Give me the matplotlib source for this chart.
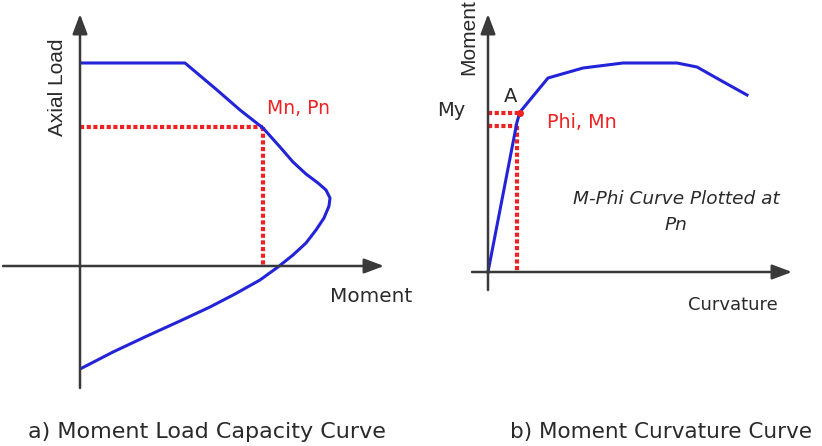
import numpy as np
import matplotlib.pyplot as plt

# Left panel: P-M interaction curve (moment, axial load), arbitrary units
pm_moment = [2, 105, 137, 160, 183, 200, 213, 226, 238, 246, 250, 249, 244, 236,
             226, 213, 198, 180, 155, 130, 100, 67, 33, 2]
pm_load = [203, 203, 176, 156, 138, 119, 104, 92, 83, 76, 68, 60, 48, 36,
           23, 11, -1, -14, -28, -41, -55, -70, -86, -102]
mn, pn = 183, 139

# Right panel: moment-curvature curve plotted at Pn
mc_phi = [0, 29, 32, 60, 95, 135, 189, 209, 232, 259]
mc_moment = [0, 150, 160, 194, 204, 209, 209, 205, 192, 177]
phi_n, m_n = 29, 146
phi_y, m_y = 32, 159

W, H = 822, 446
blue = '#2323d8'
red = '#ee2222'
txt = '#2a2a2a'
axc = '#3a3a3a'
dotted = (0, (1, 0.6))

fig = plt.figure(figsize=(W / 100, H / 100), dpi=100)


def panel(x0, x1, y0, y1, ox, oy):
    # axes over pixel box, 1 data unit = 1 pixel, origin at pixel (ox, oy)
    ax = fig.add_axes([x0 / W, 1 - y1 / H, (x1 - x0) / W, (y1 - y0) / H])
    ax.set_xlim(x0 - ox, x1 - ox)
    ax.set_ylim(oy - y1, oy - y0)
    ax.axis('off')
    return ax


def arrow_axis(ax, start, end):
    ax.annotate('', xy=end, xytext=start,
                arrowprops=dict(arrowstyle='-|>,head_length=1.2,head_width=0.45',
                                color=axc, lw=1.8, shrinkA=0, shrinkB=0))


# ---- a) Moment Load Capacity Curve
ax1 = panel(0, 410, 0, 400, 80, 266)
arrow_axis(ax1, (0, -122), (0, 252))
arrow_axis(ax1, (-77, 0), (304, 0))
ax1.plot([0, mn], [pn, pn], color=red, lw=3, ls=dotted)
ax1.plot([mn, mn], [pn, 0], color=red, lw=3, ls=dotted)
ax1.plot(pm_moment, pm_load, color=blue, lw=2.2, solid_joinstyle='round')
ax1.text(-23, 179, 'Axial Load', rotation=90, ha='center', va='center',
         family='Liberation Sans', fontsize=15, color=txt)
ax1.text(187, 157, 'Mn, Pn', ha='left', va='center', fontsize=13.5, color=red)
ax1.text(250, -31, 'Moment', ha='left', va='center', fontsize=14.4, color=txt)

# ---- b) Moment Curvature Curve
ax2 = panel(410, 822, 0, 400, 488, 272)
arrow_axis(ax2, (0, -18), (0, 258))
arrow_axis(ax2, (-16, 0), (304, 0))
ax2.plot([0, phi_y], [m_y, m_y], color=red, lw=3, ls=dotted)
ax2.plot([0, phi_n], [m_n, m_n], color=red, lw=3, ls=dotted)
ax2.plot([phi_n, phi_n], [m_n, 0], color=red, lw=3, ls=dotted)
ax2.plot(mc_phi, mc_moment, color=blue, lw=2.2)
ax2.plot([phi_y], [m_y], 'o', color=red, ms=4)
ax2.text(-19, 235, 'Moment', rotation=90, ha='center', va='center',
         family='Liberation Sans', fontsize=15, color=txt)
ax2.text(-37, 162, 'My', ha='center', va='center', fontsize=14, color=txt)
ax2.text(23, 175, 'A', ha='center', va='center', fontsize=14, color=txt)
ax2.text(59, 150, 'Phi, Mn', ha='left', va='center', fontsize=13.8, color=red)
ax2.text(188, 60, 'M-Phi Curve Plotted at\nPn', ha='center', va='center',
         fontsize=13.3, style='italic', color=txt, linespacing=1.6)
ax2.text(245, -33, 'Curvature', ha='center', va='center', fontsize=13, color=txt)

# captions
fig.text(28 / W, 1 - 432 / H, 'a) Moment Load Capacity Curve', ha='left', va='center',
         fontsize=16, color=txt)
fig.text(510 / W, 1 - 432 / H, 'b) Moment Curvature Curve', ha='left', va='center',
         fontsize=15.5, color=txt)

fig.savefig('out.png', dpi=100, facecolor='white')
